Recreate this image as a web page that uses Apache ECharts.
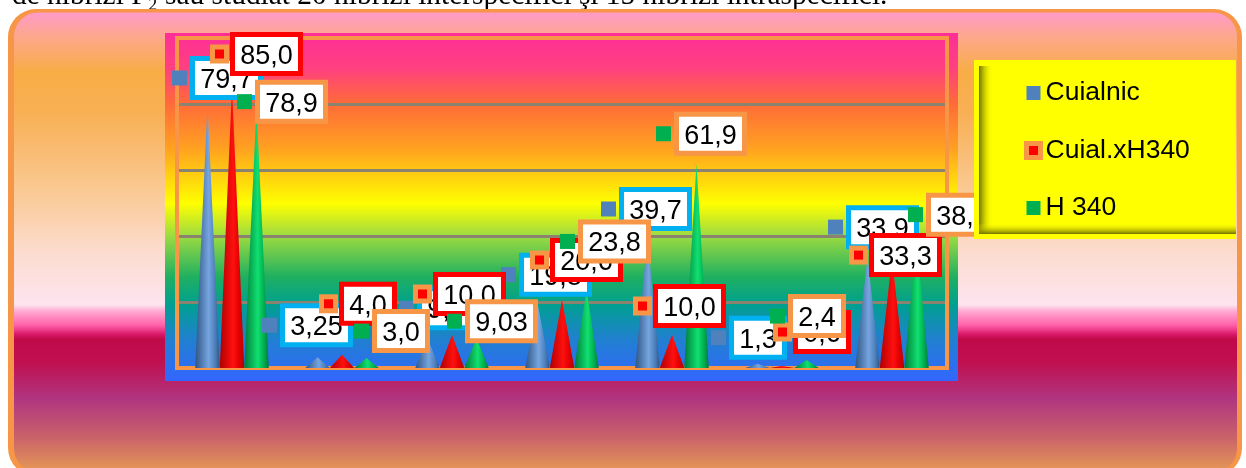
<!DOCTYPE html>
<html><head><meta charset="utf-8">
<style>html,body{margin:0;padding:0;background:#fff}#c{width:1246px;height:468px}</style>
<script src="https://cdn.jsdelivr.net/npm/echarts@6/dist/echarts.min.js"></script></head>
<body><div id="c"></div>
<script>
const categories = ['1','2','3','4','5','6','7'];
const seriesNames = ['Cuialnic','Cuial.xH340','H 340'];
const cuialnic = [79.7,3.25,9.0,19.8,39.7,1.3,33.9];
const cuialH340 = [85.0,4.0,10.0,20.6,10.0,0.6,33.3];
const h340 = [78.9,3.0,9.03,23.8,61.9,2.4,38.9];
const cuialnicText = ['79,7','3,25','9,0','19,8','39,7','1,3','33,9'];
const cuialH340Text = ['85,0','4,0','10,0','20,6','10,0','0,6','33,3'];
const h340Text = ['78,9','3,0','9,03','23,8','61,9','2,4','38,9'];
const topText = 'de hibrizi F\u2082 sau studiat 20 hibrizi interspecifici \u015Fi 15 hibrizi intraspecifici.';

// Manual label displacement relative to each point
const cuialnicOffsets = [[-60,-27],[-80,-32],[-53,-30],[-61,-28],[-71,-28],[-71,-26],[-64,-29]];
const cuialH340Offsets = [[-17,-33.5],[-18,-51],[-34,-41],[-27,-40],[-34,-29],[-4,-34],[-38,-3]];
const h340Offsets = [[5,-6],[12,-27],[-5,-17],[-2,-48],[-16,-30],[-12,-44],[16,-25]];

const FONT = '"Liberation Sans", Arial, sans-serif';
const BLUE='#4f81bd', RED='#ff0000', GREEN='#00b050', ORANGE='#f79646', CYAN='#00b0f0';
const hGrad = (d,m,l) => new echarts.graphic.LinearGradient(0,0,1,0,[
  {offset:0,color:d},{offset:.55,color:l},{offset:.8,color:m},{offset:1,color:d}]);

function cone(name, values, z, fill){
  return {type:'pictorialBar',name,data:values,symbol:'triangle',symbolSize:['100%','100%'],
    barWidth:24.5,barGap:'0%',z,silent:true,itemStyle:{color:fill},legendHoverLink:false};
}
function boxStyle(w,color){
  return {width:w,height:29,padding:[5,0,0,0],align:'center',backgroundColor:'#fff',borderColor:color,borderWidth:5,
    borderRadius:0,color:'#000',fontFamily:FONT,fontSize:27};
}
function labels(name, values, texts, offsets, z, boxColor, keyStyle, gap){
  return {type:'scatter',name,z,symbolSize:0,silent:true,legendHoverLink:false,
    itemStyle:{color:keyStyle.backgroundColor,opacity:1},
    data:values.map((v,i)=>({value:v,label:{offset:offsets[i],
      formatter:'{k|}{g|}'+(texts[i].length>3?'{w|':'{n|')+texts[i]+'}'}})),
    label:{show:true,opacity:1,position:'right',distance:0,align:'left',verticalAlign:'middle',
      rich:{k:keyStyle,g:{width:gap,height:1},w:boxStyle(63,boxColor),n:boxStyle(48,boxColor)}}};
}
const gridLeft=177,gridTop=38,gridW=770,gridH=330;
const chart = echarts.init(document.getElementById('c'),null,{renderer:'canvas'});
chart.setOption({
  animation:false,
  textStyle:{fontFamily:FONT},
  graphic:[
    {type:'text',z:-4,left:12,top:-18,style:{text:topText,font:'29.4px "Liberation Serif", serif',fill:'#000'}},
    {type:'rect',z:-3,shape:{x:8,y:9,width:1234,height:467,r:28},style:{fill:ORANGE}},
    {type:'rect',z:-2,shape:{x:14,y:12.5,width:1223,height:460,r:24},style:{
      fill:new echarts.graphic.LinearGradient(0,0,0,1,[
        {offset:0,color:'#ff9ac8'},{offset:.055,color:'#fda88a'},{offset:.13,color:'#f8ad45'},{offset:.22,color:'#f8b055'},
        {offset:.4,color:'#facb98'},{offset:.52,color:'#fcdccf'},{offset:.635,color:'#fde4ef'},
        {offset:.65,color:'#ffa8d0'},{offset:.68,color:'#ff60a8'},{offset:.7,color:'#d81868'},{offset:.71,color:'#c00a4a'},
        {offset:.76,color:'#c0104f'},{offset:.84,color:'#b03580'},{offset:.92,color:'#c8606a'},{offset:1,color:'#e79a55'}])}},
    {type:'rect',z:-1,shape:{x:165,y:33,width:793,height:348},style:{
      fill:new echarts.graphic.LinearGradient(0,0,0,1,[
        {offset:0,color:'#ff2e98'},{offset:.1,color:'#ff4080'},{offset:.2,color:'#ff6a3a'},{offset:.33,color:'#ffa020'},
        {offset:.49,color:'#ffff00'},{offset:.58,color:'#a0dc40'},{offset:.7,color:'#20b060'},{offset:.78,color:'#00a090'},
        {offset:.88,color:'#2080d0'},{offset:1,color:'#3366ff'}])}},
    {type:'rect',z:60,shape:{x:979,y:66,width:14,height:168},style:{
      fill:new echarts.graphic.LinearGradient(0,0,1,0,[{offset:0,color:'#707000'},{offset:1,color:'rgba(255,255,0,0)'}])}},
    {type:'rect',z:60,shape:{x:979,y:223,width:257,height:11},style:{
      fill:new echarts.graphic.LinearGradient(0,0,0,1,[{offset:0,color:'rgba(255,255,0,0)'},{offset:1,color:'#707000'}])}}
  ],
  grid:{left:gridLeft,top:gridTop,width:gridW,height:gridH,show:true,backgroundColor:'transparent',borderColor:ORANGE,borderWidth:4,z:1},
  xAxis:{type:'category',data:categories,axisLabel:{show:false},axisTick:{show:false},axisLine:{show:false},splitLine:{show:false}},
  yAxis:{type:'value',min:0,max:100,interval:20,axisLabel:{show:false},axisTick:{show:false},axisLine:{show:false},
    splitLine:{show:true,lineStyle:{color:'#8c8270',width:3}}},
  legend:{left:974,top:60,orient:'vertical',align:'left',backgroundColor:'#ffff00',z:50,selectedMode:false,
    padding:[18,46,16,50],itemGap:27.5,itemWidth:14,itemHeight:14,icon:'rect',
    textStyle:{fontFamily:FONT,fontSize:26.5,color:'#000',lineHeight:30},
    data:[{name:seriesNames[0],itemStyle:{color:BLUE}},
      {name:seriesNames[1],itemStyle:{color:RED,borderColor:ORANGE,borderWidth:5,borderRadius:2}},
      {name:seriesNames[2],itemStyle:{color:GREEN}}]},
  series:[
    cone(seriesNames[0],cuialnic,2,hGrad('#2f5583','#4f81bd','#76a5e0')),
    cone(seriesNames[1],cuialH340,2,hGrad('#b00000','#e00000','#ff1010')),
    cone(seriesNames[2],h340,2,hGrad('#007a38','#00b050','#10e070')),
    labels(seriesNames[0],cuialnic,cuialnicText,cuialnicOffsets,10,CYAN,{width:15,height:15,backgroundColor:BLUE},8),
    labels(seriesNames[1],cuialH340,cuialH340Text,cuialH340Offsets,11,RED,
      {width:9,height:9,backgroundColor:RED,borderColor:ORANGE,borderWidth:5,borderRadius:0},11),
    labels(seriesNames[2],h340,h340Text,h340Offsets,12,ORANGE,{width:15,height:15,backgroundColor:GREEN},8)
  ]
});
</script></body></html>
